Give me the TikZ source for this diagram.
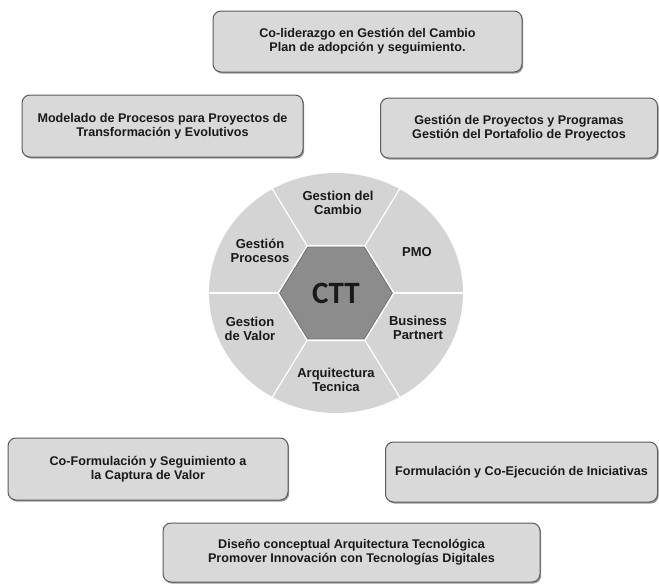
\documentclass[tikz,border=0pt]{standalone}
\usepackage{fontspec}
\setmainfont{Liberation Sans}
\newfontfamily\cttfont{Carlito}
\usetikzlibrary{shadows}

\definecolor{boxgray}{HTML}{D9D9D9}
\definecolor{edgegray}{HTML}{5A5A5A}
\definecolor{shadowgray}{HTML}{9A9A9A}
\definecolor{wheelgray}{HTML}{D4D4D4}
\definecolor{hexgray}{HTML}{8C8C8C}
\definecolor{hexedge}{HTML}{6A6A6A}

\begin{document}
\begin{tikzpicture}[
    x=1pt, y=-1pt,
    block/.style={draw=edgegray, line width=1pt, fill=boxgray, rounded corners=8pt,
      align=center, text=black!90, font=\bfseries\fontsize{12.6}{14}\selectfont,
      drop shadow={shadow xshift=1.2pt, shadow yshift=-1.6pt, fill=shadowgray, opacity=1}},
    seg/.style={align=center, text=black!90, font=\bfseries\fontsize{13}{14}\selectfont}
  ]
  \useasboundingbox (0,0) rectangle (659,584);

  % outer boxes
  \node[block, minimum width=309pt, minimum height=61pt] (cambio) at (367.5,41.5)
    {Co-liderazgo en Gestión del Cambio\\Plan de adopción y seguimiento.};
  \node[block, minimum width=281pt, minimum height=62pt] (procesos) at (162.5,126)
    {Modelado de Procesos para Proyectos de\\Transformación y Evolutivos};
  \node[block, minimum width=277pt, minimum height=60pt] (pmo) at (519,128)
    {Gestión de Proyectos y Programas\\Gestión del Portafolio de Proyectos};
  \node[block, minimum width=280pt, minimum height=62pt] (valor) at (148,469)
    {Co-Formulación y Seguimiento a\\la Captura de Valor};
  \node[block, minimum width=272pt, minimum height=60pt] (partner) at (521.5,472)
    {Formulación y Co-Ejecución de Iniciativas};
  \node[block, minimum width=377pt, minimum height=59pt] (tecnica) at (351.5,552.5)
    {Diseño conceptual Arquitectura Tecnológica\\Promover Innovación con Tecnologías Digitales};

  % wheel
  \coordinate (c) at (336,293);
  \fill[wheelgray] (c) ellipse [x radius=127, y radius=120];
  \begin{scope}[shift={(c)}, xscale=1.06]
    \foreach \a in {0,60,...,300}
      \draw[white, line width=1.2pt] (\a:54) -- (\a:120);
    \draw[white, line width=2.5pt, fill=hexgray]
      (0:54) -- (60:54) -- (120:54) -- (180:54) -- (240:54) -- (300:54) -- cycle;
    \draw[hexedge, line width=1pt]
      (0:53) -- (60:53) -- (120:53) -- (180:53) -- (240:53) -- (300:53) -- cycle;
  \end{scope}
  \node[font=\cttfont\bfseries\fontsize{31}{31}\selectfont, text=black!90] (ctt) at (c) {CTT};

  % segment labels
  \node[seg] (sCambio)   at (338,203) {Gestion del\\Cambio};
  \node[seg] (sPmo)      at (417,252) {PMO};
  \node[seg] (sPartner)  at (418,328) {Business\\Partnert};
  \node[seg] (sTecnica)  at (336,380) {Arquitectura\\Tecnica};
  \node[seg] (sValor)    at (250,329) {Gestion\\de Valor};
  \node[seg] (sProcesos) at (260,251) {Gestión\\Procesos};
\end{tikzpicture}
\end{document}
